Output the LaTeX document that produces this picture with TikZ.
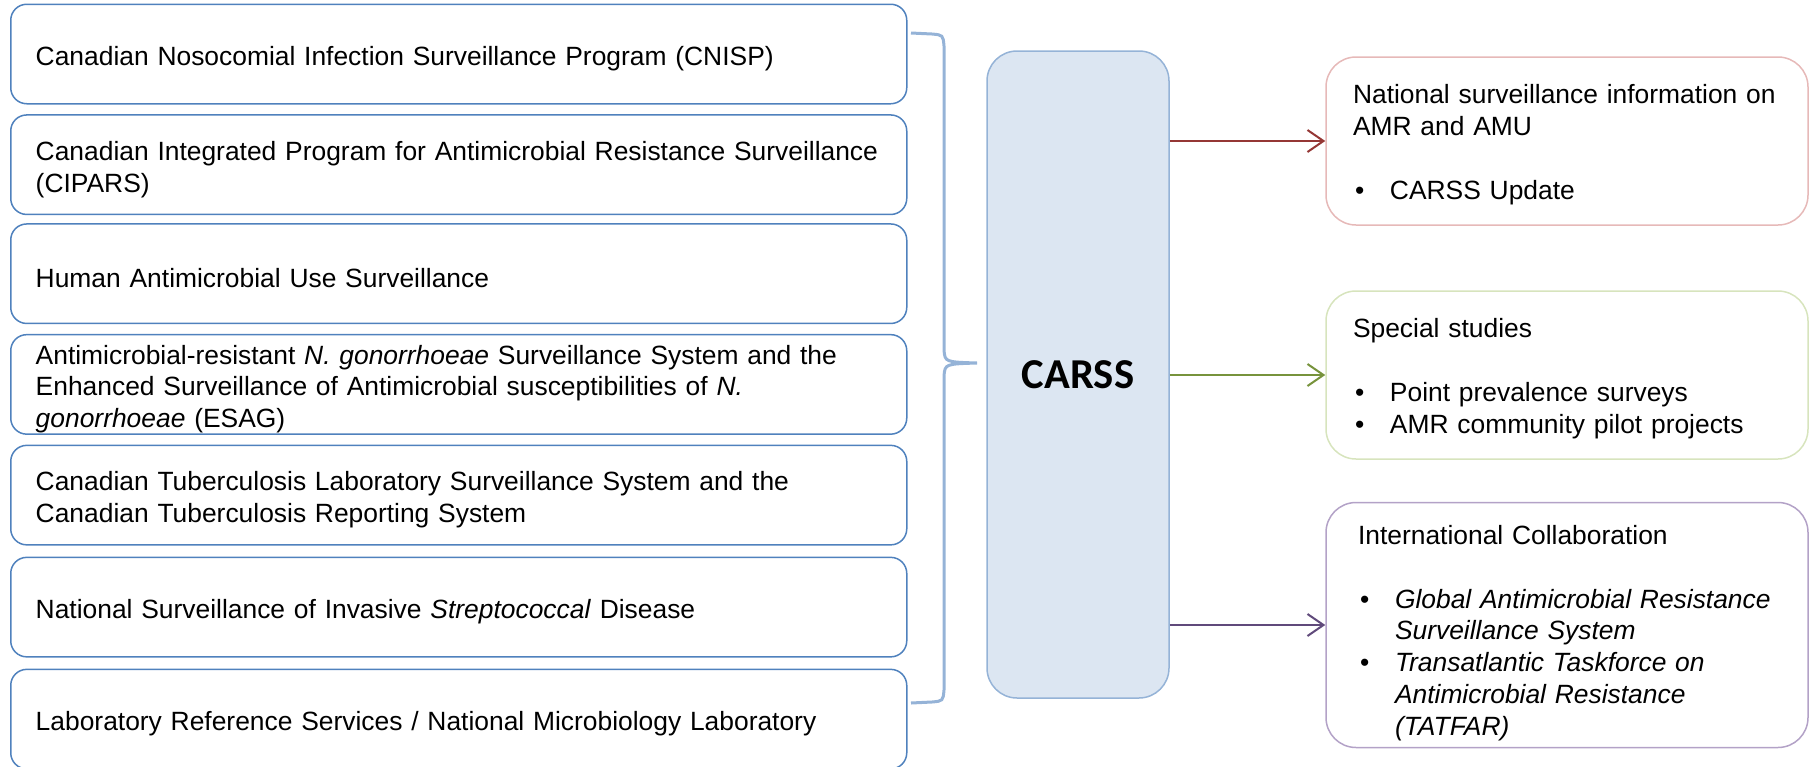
\documentclass[tikz,border=0pt]{standalone}
\usepackage{fontspec}
\setmainfont{Liberation Sans}
\newfontfamily\carlito{Carlito}
\usetikzlibrary{arrows.meta,positioning,calc}

\setlength{\parindent}{0pt}

\definecolor{srcblue}{HTML}{4F81BD}
\definecolor{braceblue}{HTML}{95B3D7}
\definecolor{hubfill}{HTML}{DCE6F2}
\definecolor{outred}{HTML}{953735}
\definecolor{outredlt}{HTML}{E6B9B8}
\definecolor{outgreen}{HTML}{77933C}
\definecolor{outgreenlt}{HTML}{D7E4BD}
\definecolor{outpurple}{HTML}{604A7B}
\definecolor{outpurplelt}{HTML}{B3A2C7}

% bullet with hanging text
\newlength{\bulw}\setlength{\bulw}{18.5pt}
\newcommand{\bul}{\makebox[\bulw][l]{\hspace{1pt}\textbullet}}
\newcommand{\ind}{\hspace*{\bulw}}

\tikzset{
  font=\fontsize{13.2pt}{15.9pt}\selectfont,
  % taller first line, so the text block sits a bit lower in its box
  textdrop/.style={execute at begin node={\rule{0pt}{#1}}},
  source/.style={
    draw=srcblue,
    line width=0.75pt,
    rounded corners=8pt,
    align=left,
    text width=423pt,
    minimum height=49.75pt,
    inner xsep=12.5pt,
    inner ysep=0pt,
    textdrop=14.3pt
  },
  hub/.style={
    draw=braceblue,
    fill=hubfill,
    line width=0.75pt,
    rounded corners=15pt,
    minimum width=91pt,
    minimum height=323.5pt,
    font=\carlito\bfseries\fontsize{21.3pt}{25pt}\selectfont
  },
  output/.style={
    line width=0.75pt,
    rounded corners=15pt,
    align=left,
    text width=214pt,
    minimum height=84pt,
    inner xsep=13.5pt,
    textdrop=13.2pt
  },
  arrow/.style={-{Straight Barb[length=8pt,width=11pt]}, line width=1pt},
  brace/.style={draw=braceblue, line width=1.5pt}
}

\begin{document}
\begin{tikzpicture}[x=0.5pt, y=-0.5pt]
\useasboundingbox (0,0) rectangle (1810,766);

% --- Left column: contributing programs
\node[source, anchor=north west] (cnisp) at (10,3.5) {Canadian Nosocomial Infection Surveillance Program (CNISP)};
\node[source, below=4.85pt of cnisp] (cipars) {Canadian Integrated Program for Antimicrobial Resistance Surveillance\\(CIPARS)};
\node[source, below=4pt of cipars] (humanamu) {Human Antimicrobial Use Surveillance};
\node[source, below=4.85pt of humanamu, textdrop=0pt] (esag) {Antimicrobial-resistant \textit{N. gonorrhoeae} Surveillance System and the\\Enhanced Surveillance of Antimicrobial susceptibilities of \textit{N.}\\\textit{gonorrhoeae} (ESAG)};
\node[source, below=4.85pt of esag] (tb) {Canadian Tuberculosis Laboratory Surveillance System and the\\Canadian Tuberculosis Reporting System};
\node[source, below=5.5pt of tb] (strep) {National Surveillance of Invasive \textit{Streptococcal} Disease};
\node[source, below=5.5pt of strep] (nml) {Laboratory Reference Services / National Microbiology Laboratory};

% --- Brace gathering the programs
\draw[brace] (911,33) -- (932,34) .. controls (943,35) .. (944,46)
  -- (944,350) .. controls (945,362) .. (977,363)
  .. controls (945,364) .. (944,376)
  -- (944,690) .. controls (943,701) .. (932,702) -- (911,703);

% --- Hub
\node[hub] (carss) at (1078,374.5) {CARSS};

% --- Right column: outputs
\node[output, draw=outredlt] (natinfo) at (1567,141) {National surveillance information on\\AMR and AMU\\[15.9pt]\bul CARSS Update};
\node[output, draw=outgreenlt] (studies) at (1567,375) {Special studies\\[15.9pt]\bul Point prevalence surveys\\\bul AMR community pilot projects};
\node[output, draw=outpurplelt, minimum height=121pt, inner xsep=16pt, text width=209pt, textdrop=17.7pt] (intl) at (1567,625) {International Collaboration\\[15.9pt]
\bul\textit{Global Antimicrobial Resistance}\\
\ind\textit{Surveillance System}\\
\bul\textit{Transatlantic Taskforce on}\\
\ind\textit{Antimicrobial Resistance}\\
\ind\textit{(TATFAR)}};

% --- Arrows
\draw[arrow, outred] (carss.east |- natinfo.west) -- (natinfo.west);
\draw[arrow, outgreen] (carss.east |- studies.west) -- (studies.west);
\draw[arrow, outpurple] (carss.east |- intl.west) -- (intl.west);

\end{tikzpicture}
\end{document}
